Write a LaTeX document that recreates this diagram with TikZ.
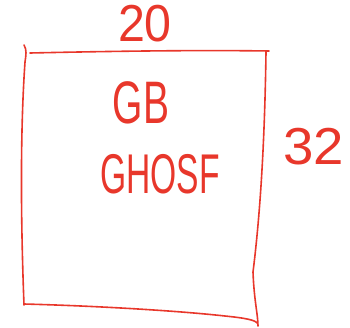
\documentclass[tikz,border=0pt]{standalone}
\usepackage{fontspec}
\setmainfont{Liberation Sans}
\definecolor{ink}{HTML}{E8372B}
\tikzset{
  pen/.style={draw=ink, line width=1.6pt, line cap=round, line join=round},
  hand/.style={text=ink, inner sep=0pt, transform shape},
}
\newcommand{\bigtxt}[2]{\fontsize{#1}{#1}\selectfont #2}
\begin{document}
\begin{tikzpicture}[x=1pt,y=-1pt]
\useasboundingbox (0,0) rectangle (350,327);
% box
\draw[pen] (30,53) .. controls (120,51) and (200,50) .. (269,51);
\draw[pen] (24,45) .. controls (27,50) and (26,55) .. (25,62)
  .. controls (21,120) and (20,200) .. (24,305);
\draw[pen] (266,52) .. controls (265,120) and (262,200) .. (253,272)
  .. controls (254,300) and (258,315) .. (258,326);
\draw[pen] (24,304) .. controls (100,306) and (180,311) .. (225,316)
  .. controls (245,318) and (255,320) .. (257,323);
% labels
\node[hand, xscale=0.93] (top) at (145,24) {\bigtxt{52}{20}};
\node[hand, xscale=0.65] (gb) at (141,103) {\bigtxt{60}{GB}};
\node[hand, xscale=0.6] (ghosf) at (160,174) {\bigtxt{56}{GHOSF}};
\node[hand, xscale=1.05] (right) at (314,147) {\bigtxt{52}{32}};
\end{tikzpicture}
\end{document}
